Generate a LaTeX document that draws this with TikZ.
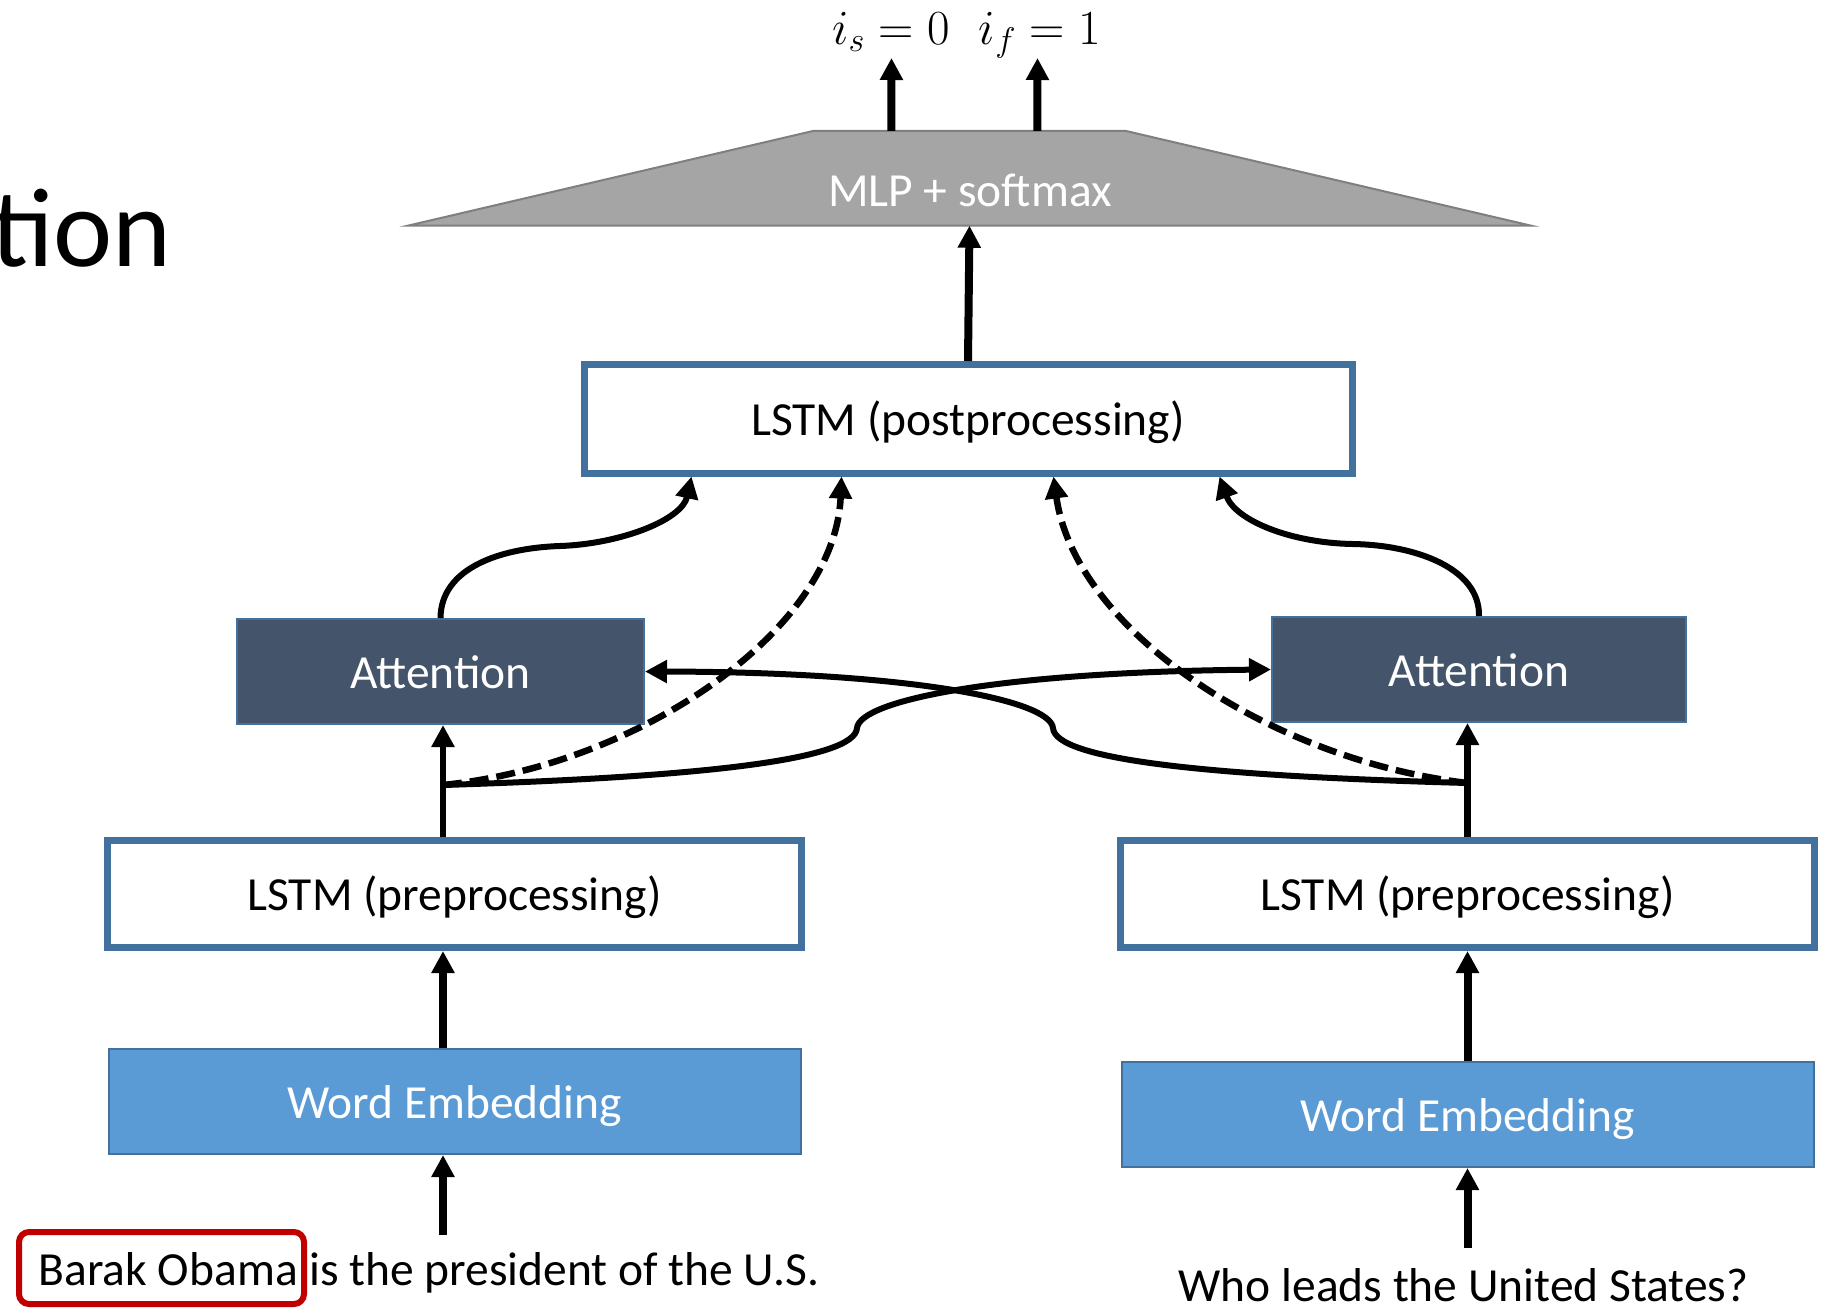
\documentclass[tikz,border=0pt]{standalone}
\usepackage{fix-cm}
\usepackage[no-math]{fontspec}
\setmainfont{Carlito}
\usetikzlibrary{arrows.meta,calc}

\definecolor{lstmblue}{HTML}{41719C}
\definecolor{attfill}{HTML}{44546A}
\definecolor{embfill}{HTML}{5B9BD5}
\definecolor{mlpfill}{HTML}{A5A5A5}
\definecolor{mlpline}{HTML}{7F7F7F}
\definecolor{hlred}{HTML}{C00000}

\newcommand\boxfont{\fontsize{47.5}{57}\selectfont}

\tikzset{
  boxtext/.style={text height=34pt, text depth=0pt, inner sep=0pt, font=\boxfont},
  lstmbox/.style={boxtext, draw=lstmblue, line width=7pt, fill=white,
    minimum height=107.5pt},
  attbox/.style={boxtext, draw=lstmblue, line width=2pt, fill=attfill, text=white,
    minimum height=105pt},
  embbox/.style={boxtext, draw=lstmblue, line width=2pt, fill=embfill, text=white,
    minimum width=692pt, minimum height=105pt},
  sentence/.style={inner sep=0pt, font=\boxfont},
  tip/.style={-{Triangle[length=22pt,width=22pt]}},
  thickarr/.style={tip, line width=8pt},
  midarr/.style={tip, line width=6.5pt},
  curvearr/.style={tip, line width=6pt},
  dasharr/.style={tip, line width=6.5pt, dash pattern=on 19pt off 8pt},
}

\begin{document}
\begin{tikzpicture}[x=1pt,y=-1pt]
\useasboundingbox (0,0) rectangle (1832,1310);

% slide title, running off the left edge
\node[anchor=base east, inner sep=0pt, font=\fontsize{112}{134}\selectfont] (title) at (172,266.7) {tion};

% output layer
\node[minimum width=311pt, minimum height=94.5pt, inner sep=0pt] (mlp) at (969.5,178.25) {};
\draw[fill=mlpfill, draw=mlpline, line width=2pt]
  (mlp.north west) -- (mlp.north east) -- ($(mlp.south east)+(406,0)$)
  -- ($(mlp.south west)+(-406,0)$) -- cycle;
\node[text=white, font=\boxfont, inner sep=0pt] (mlplabel) at (970,190) {MLP + softmax};

\node[anchor=base, inner sep=0pt, font=\fontsize{49}{58}\selectfont] (is) at (891,44) {$i_s = 0$};
\node[anchor=base, inner sep=0pt, font=\fontsize{49}{58}\selectfont] (if) at (1040,44) {$i_f = 1$};
\coordinate (isTip) at (891.5,58);
\coordinate (ifTip) at (1037.5,58);
\draw[thickarr] ($(mlp.north west)+(77.5,0)$) -- (isTip);
\draw[thickarr] ($(mlp.north west)+(223.5,0)$) -- (ifTip);

% postprocessing LSTM
\node[lstmbox, minimum width=768pt, minimum height=108.5pt] (lstmpost) at (968,418.75) {LSTM (postprocessing)};
\draw[thickarr] (lstmpost.north) -- (mlp.south);

% attention blocks
\node[attbox, minimum width=407pt] (attL) at (440.5,671.5) {Attention};
\node[attbox, minimum width=414pt] (attR) at (1479,669.5) {Attention};

% preprocessing LSTMs
\node[lstmbox, minimum width=694pt] (preL) at (454.5,893.75) {LSTM (preprocessing)};
\node[lstmbox, minimum width=694pt] (preR) at (1467.5,893.75) {LSTM (preprocessing)};

% word embeddings
\node[embbox] (embL) at (454.5,1101.5) {Word Embedding};
\node[embbox] (embR) at (1467.5,1114.5) {Word Embedding};

% input sentences
\node[draw=hlred, line width=6pt, rounded corners=10pt, minimum width=285pt,
  minimum height=72pt, inner sep=0pt] (hl) at (161.5,1268) {};
\node[sentence, anchor=base west] (bo) at (38.5,1285) {Barak Obama};
\node[sentence, anchor=base west] (sentL) at ($(bo.base east)+(11,0)$) {is the president of the U.S.};
\node[sentence, anchor=base] (sentR) at (1463.5,1301.5) {Who leads the United States?};

% vertical columns and junctions
\coordinate (colL) at (443,0);
\coordinate (colR) at (1467.5,0);
\coordinate (inL) at (443,1235);
\coordinate (inR) at (1467.5,1248);
\coordinate (jL) at (443,785);
\coordinate (jR) at (1467.5,783);

\draw[thickarr] (inL) -- (embL.south -| colL);
\draw[thickarr] (embL.north -| colL) -- (preL.south -| colL);
\draw[midarr] (preL.north -| colL) -- (attL.south -| colL);

\draw[thickarr] (inR) -- (embR.south -| colR);
\draw[thickarr] (embR.north -| colR) -- (preR.south -| colR);
\draw[midarr] (preR.north -| colR) -- (attR.south -| colR);

% cross connections between the two branches
\draw[curvearr] (jL) .. controls (700,777) and (855,760) .. (857,728)
  .. controls (860,700) and (1000,672) .. (attR.west);
\draw[curvearr] (jR) .. controls (1210,776) and (1055,760) .. (1053,728)
  .. controls (1050,700) and (910,672) .. (attL.east);

% attention outputs into the postprocessing LSTM
\draw[curvearr] (attL.north) .. controls (441,568) and (500,548) .. (560,546)
  .. controls (620,544) and (682,520) .. ($(lstmpost.south west)+(111,0)$);
\draw[curvearr] (attR.north) .. controls (1480,568) and (1415,545) .. (1353,544)
  .. controls (1290,543) and (1235,520) .. ($(lstmpost.south west)+(639,0)$);

% skip connections (dashed)
\draw[dasharr] (jL) .. controls (640,765) and (835,630) .. ($(lstmpost.south west)+(261,0)$);
\draw[dasharr] (jR) .. controls (1270,760) and (1075,630) .. ($(lstmpost.south west)+(473,0)$);

\end{tikzpicture}
\end{document}
